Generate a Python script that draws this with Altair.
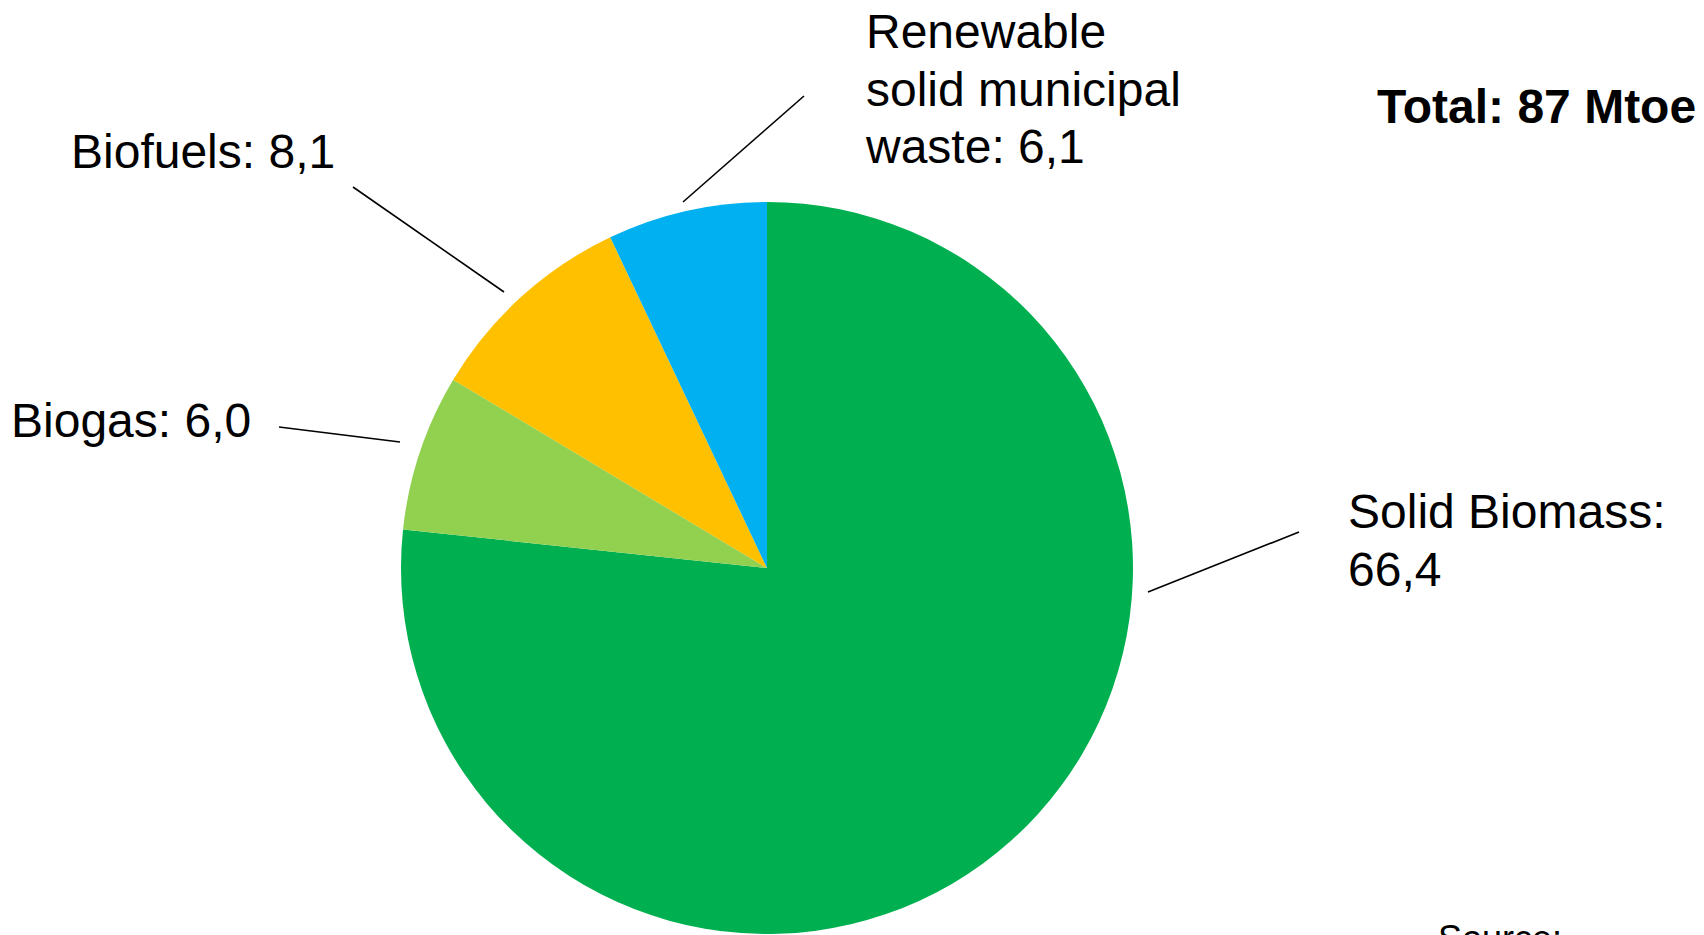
import altair as alt
import pandas as pd

# ---- data ----
categories = ["Solid Biomass", "Biogas", "Biofuels", "Renewable solid municipal waste"]
values = [66.4, 6.0, 8.1, 6.1]
colors = ["#00B050", "#92D050", "#FFC000", "#00B0F0"]
label_prefix = [["Solid Biomass:"], ["Biogas:"], ["Biofuels:"], ["Renewable", "solid municipal", "waste:"]]
total_text = "Total: 87 Mtoe"
source_text = "Source:"

def fmt(v):
    return f"{v:.1f}".replace(".", ",")

def make_label(prefix, v):
    lines = list(prefix)
    if prefix[0] == "Solid Biomass:":
        return lines + [fmt(v)]
    lines[-1] = lines[-1] + " " + fmt(v)
    return lines

pie_df = pd.DataFrame({"category": categories, "value": values, "order": list(range(len(categories)))})

# ---- layout (pixel positions of annotations) ----
W, H = 1688, 927
CX, CY, R = 759, 560, 366
label_pos = {  # text anchor x, baseline y of first line
    "Solid Biomass": (1340, 520),
    "Biogas": (3, 429),
    "Biofuels": (63, 160),
    "Renewable solid municipal waste": (858, 40),
}
leader_pos = {
    "Solid Biomass": (1291, 524, 1140, 584),
    "Biogas": (271, 419, 392, 434),
    "Biofuels": (345, 179, 496, 284),
    "Renewable solid municipal waste": (796, 88, 675, 194),
}

lab_rows = []
for c, p, v in zip(categories, label_prefix, values):
    x, y = label_pos[c]
    lab_rows.append({"category": c, "label": make_label(p, v), "px": x, "py": y})
lab_df = pd.DataFrame(lab_rows)

lead_rows = []
for c in categories:
    x1, y1, x2, y2 = leader_pos[c]
    lead_rows.append({"category": c, "x1": x1, "y1": y1, "x2": x2, "y2": y2})
lead_df = pd.DataFrame(lead_rows)

FONT = "Liberation Sans"
FS = 48

pie = alt.Chart(pie_df).mark_arc(x=CX, y=CY, radius=R).encode(
    theta=alt.Theta("value:Q", stack=True),
    order=alt.Order("order:Q"),
    color=alt.Color("category:N", scale=alt.Scale(domain=categories, range=colors), legend=None),
)

leaders = alt.Chart(lead_df).mark_rule(color="black", strokeWidth=1.6).encode(
    x=alt.X("x1:Q", scale=None, axis=None),
    y=alt.Y("y1:Q", scale=None, axis=None),
    x2="x2:Q",
    y2="y2:Q",
)

labels = alt.Chart(lab_df).mark_text(
    font=FONT, fontSize=FS, align="left", baseline="alphabetic", lineHeight=57.5, color="black"
).encode(
    x=alt.X("px:Q", scale=None, axis=None),
    y=alt.Y("py:Q", scale=None, axis=None),
    text="label",
)

total = alt.Chart(pd.DataFrame({"t": [total_text]})).mark_text(
    font=FONT, fontSize=FS, fontWeight="bold", align="left", baseline="alphabetic", color="black"
).encode(x=alt.value(1369), y=alt.value(115), text="t:N")

source = alt.Chart(pd.DataFrame({"t": [source_text]})).mark_text(
    font=FONT, fontSize=36, align="left", baseline="alphabetic", color="black"
).encode(x=alt.value(1430), y=alt.value(943), text="t:N")

chart = alt.layer(pie, leaders, labels, total, source).properties(
    width=W, height=H, padding=0, background="white",
    autosize=alt.AutoSizeParams(type="none"),
).configure_view(stroke=None, strokeWidth=0)

chart.save("out.html", embed_options={"renderer": "svg", "actions": False})
